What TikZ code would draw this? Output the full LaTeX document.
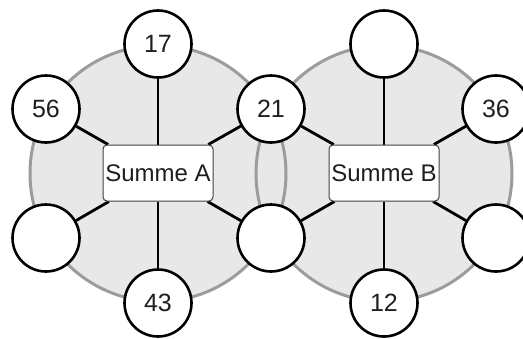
\documentclass[tikz,border=0pt]{standalone}
\usepackage{fontspec}
\setmainfont{Liberation Sans}
\usetikzlibrary{backgrounds}
\begin{document}
\begin{tikzpicture}[x=1pt,y=-1pt,
  ring/.style={fill=ringfill,draw=none},
  ringline/.style={draw=ringdraw,line width=3pt},
  num/.style={circle,draw=black,line width=2.6pt,fill=white,minimum size=67pt,inner sep=0pt,font=\fontsize{25}{29}\selectfont,text=black!88},
  sumbox/.style={rectangle,rounded corners=4pt,draw=black!75,line width=1pt,fill=white,minimum width=110pt,minimum height=56pt,inner sep=0pt,font=\fontsize{24}{28}\selectfont,text=black!88},
  link/.style={line width=2.8pt,draw=black}]
\definecolor{ringfill}{HTML}{E8E8E8}
\definecolor{ringdraw}{HTML}{9C9C9C}
\useasboundingbox (0,0) rectangle (523,338);
% rings
\begin{scope}[on background layer]
\fill[ring] (158,173.5) circle (128);
\fill[ring] (384,173.5) circle (128);
\draw[ringline] (158,173.5) circle (128);
\draw[ringline] (384,173.5) circle (128);
\end{scope}
% sum boxes
\node[sumbox] (sa) at (158,173) {Summe A};
\node[sumbox] (sb) at (384,173) {Summe B};
% number nodes
\node[num] (a1) at (158,44) {17};
\node[num] (a2) at (46,109) {56};
\node[num] (a3) at (46,238) {};
\node[num] (a4) at (158,303) {43};
\node[num] (s1) at (271,109) {21};
\node[num] (s2) at (271,238) {};
\node[num] (b1) at (384,44) {};
\node[num] (b2) at (496,109) {36};
\node[num] (b3) at (496,238) {};
\node[num] (b4) at (384,303) {12};
% links
\begin{scope}[on background layer]
\foreach \n in {a1,a2,a3,a4,s1,s2} \draw[link] (sa) -- (\n);
\foreach \n in {b1,b2,b3,b4,s1,s2} \draw[link] (sb) -- (\n);
\end{scope}
\end{tikzpicture}
\end{document}
